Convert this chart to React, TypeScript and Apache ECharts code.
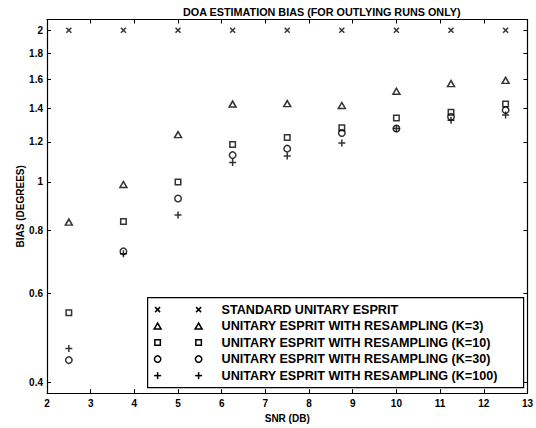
import React, { useEffect, useRef } from "react";
import * as echarts from "echarts";

const snrDb = [2.5, 3.75, 5, 6.25, 7.5, 8.75, 10, 11.25, 12.5];
const standardEsprit = [2, 2, 2, 2, 2, 2, 2, 2, 2];
const resampK3 = [0.832, 0.988, 1.241, 1.427, 1.43, 1.418, 1.513, 1.567, 1.59];
const resampK10 = [0.55, 0.834, 1.0, 1.186, 1.225, 1.28, 1.339, 1.374, 1.428];
const resampK30 = [0.443, 0.728, 0.927, 1.13, 1.164, 1.25, 1.276, 1.346, 1.388];
const resampK100 = [0.467, 0.72, 0.86, 1.093, 1.125, 1.195, 1.276, 1.326, 1.357];
const yTicks = [0.4, 0.6, 0.8, 1, 1.2, 1.4, 1.6, 1.8, 2];
const seriesNames = [
  "STANDARD UNITARY ESPRIT",
  "UNITARY ESPRIT WITH RESAMPLING (K=3)",
  "UNITARY ESPRIT WITH RESAMPLING (K=10)",
  "UNITARY ESPRIT WITH RESAMPLING (K=30)",
  "UNITARY ESPRIT WITH RESAMPLING (K=100)",
];
const titleText = "DOA ESTIMATION BIAS (FOR OUTLYING RUNS ONLY)";
const xName = "SNR (DB)";
const yName = "BIAS (DEGREES)";

const FONT = "'Liberation Sans', Arial, Helvetica, sans-serif";
const INK = "#000";

const crossPath = "path://M0,0L10,10M10,0L0,10";
const plusPath = "path://M5,0L5,10M0,5L10,5";

const markerSpecs = [
  { symbol: crossPath, size: 5 },
  { symbol: "triangle", size: [7, 6] },
  { symbol: "rect", size: 5.5 },
  { symbol: "circle", size: 6.5 },
  { symbol: plusPath, size: 7 },
];

const seriesValues = [standardEsprit, resampK3, resampK10, resampK30, resampK100];

function legendMarker(kind: number, cx: number, cy: number): any[] {
  const st = { fill: "none", stroke: INK, lineWidth: 1.5 };
  if (kind === 0) {
    return [
      { type: "line", shape: { x1: cx - 2.5, y1: cy - 2.5, x2: cx + 2.5, y2: cy + 2.5 }, style: st },
      { type: "line", shape: { x1: cx + 2.5, y1: cy - 2.5, x2: cx - 2.5, y2: cy + 2.5 }, style: st },
    ];
  }
  if (kind === 1) {
    return [
      {
        type: "polygon",
        shape: { points: [[cx, cy - 3], [cx - 3.5, cy + 3], [cx + 3.5, cy + 3]] },
        style: st,
      },
    ];
  }
  if (kind === 2) {
    return [{ type: "rect", shape: { x: cx - 2.75, y: cy - 2.75, width: 5.5, height: 5.5 }, style: st }];
  }
  if (kind === 3) {
    return [{ type: "circle", shape: { cx, cy, r: 3.2 }, style: st }];
  }
  return [
    { type: "line", shape: { x1: cx - 3.5, y1: cy, x2: cx + 3.5, y2: cy }, style: st },
    { type: "line", shape: { x1: cx, y1: cy - 3.5, x2: cx, y2: cy + 3.5 }, style: st },
  ];
}

export default function App() {
  const ref = useRef<HTMLDivElement>(null);

  useEffect(() => {
    document.body.style.margin = "0";
    if (!ref.current) return;
    const chart = echarts.init(ref.current, null, { renderer: "svg" });

    const legendLeft = 147;
    const legendTop = 297;
    const rowY = [12, 28.5, 45, 61.5, 78];
    const legendChildren: any[] = [
      {
        type: "rect",
        shape: { x: 0, y: 0, width: 376, height: 90 },
        style: { fill: "#fff", stroke: INK, lineWidth: 1.2 },
      },
    ];
    seriesNames.forEach((name, i) => {
      legendChildren.push(...legendMarker(i, 10, rowY[i]));
      legendChildren.push(...legendMarker(i, 51, rowY[i]));
      legendChildren.push({
        type: "text",
        x: 74,
        y: rowY[i],
        style: {
          text: name,
          font: `bold 12.6px ${FONT}`,
          fill: INK,
          verticalAlign: "middle",
          align: "left",
        },
      });
    });

    const axisLabelStyle = {
      color: INK,
      fontSize: 10,
      fontWeight: "bold" as const,
      fontFamily: FONT,
    };

    chart.setOption({
      animation: false,
      backgroundColor: "#fff",
      title: {
        text: titleText,
        left: 183,
        top: 6,
        padding: 0,
        textStyle: { color: INK, fontSize: 10.8, fontWeight: "bold", fontFamily: FONT },
      },
      grid: { left: 47, right: 2, top: 19.5, bottom: 33, containLabel: false },
      xAxis: [
        {
          type: "value",
          min: 2,
          max: 13,
          interval: 1,
          name: xName,
          nameLocation: "middle",
          nameGap: 15,
          nameTextStyle: { ...axisLabelStyle },
          axisLine: { show: true, onZero: false, lineStyle: { color: INK, width: 1.2 } },
          axisTick: { show: true, inside: true, length: 4, lineStyle: { color: INK } },
          axisLabel: { ...axisLabelStyle, margin: 5 },
          splitLine: { show: false },
        },
        {
          type: "value",
          position: "top",
          min: 2,
          max: 13,
          interval: 1,
          axisLine: { show: true, onZero: false, lineStyle: { color: INK, width: 1.2 } },
          axisTick: { show: true, inside: true, length: 4, lineStyle: { color: INK } },
          axisLabel: { show: false },
          splitLine: { show: false },
        },
      ],
      yAxis: [
        {
          type: "log",
          logBase: 10,
          min: 0.381,
          max: 2.1,
          name: yName,
          nameLocation: "middle",
          nameGap: 22,
          nameRotate: 90,
          nameMoveOverlap: false,
          nameTextStyle: { ...axisLabelStyle },
          axisLine: { show: true, onZero: false, lineStyle: { color: INK, width: 1.2 } },
          axisTick: {
            show: true,
            inside: true,
            length: 4,
            customValues: yTicks,
            lineStyle: { color: INK },
          },
          axisLabel: {
            ...axisLabelStyle,
            margin: 4,
            customValues: yTicks,
            showMinLabel: true,
            showMaxLabel: true,
            hideOverlap: false,
            formatter: (v: number) => String(Number(Number(v).toFixed(2))),
          },
          splitLine: { show: false },
          minorSplitLine: { show: false },
        },
        {
          type: "log",
          logBase: 10,
          position: "right",
          min: 0.381,
          max: 2.1,
          axisLine: { show: true, onZero: false, lineStyle: { color: INK, width: 1.2 } },
          axisTick: {
            show: true,
            inside: true,
            length: 4,
            customValues: yTicks,
            lineStyle: { color: INK },
          },
          axisLabel: { show: false },
          splitLine: { show: false },
        },
      ],
      series: seriesValues.map((vals, i) => ({
        name: seriesNames[i],
        type: "scatter",
        xAxisIndex: 0,
        yAxisIndex: 0,
        symbol: markerSpecs[i].symbol,
        symbolSize: markerSpecs[i].size,
        itemStyle: { color: "transparent", borderColor: INK, borderWidth: 1.5 },
        emphasis: { disabled: true },
        data: snrDb.map((x, j) => [x, vals[j]]),
      })),
      graphic: [
        {
          type: "group",
          left: legendLeft,
          top: legendTop,
          z: 150,
          children: legendChildren,
        },
      ],
    });

    return () => chart.dispose();
  }, []);

  return <div ref={ref} style={{ width: 536, height: 428 }} />;
}
